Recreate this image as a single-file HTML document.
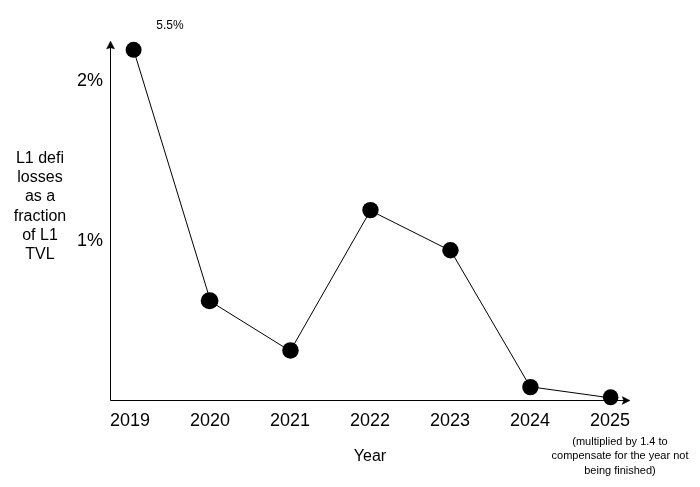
<!DOCTYPE html>
<html><head><meta charset="utf-8"><style>
html,body{margin:0;padding:0;background:#fff;width:700px;height:487px;overflow:hidden}
svg{display:block;will-change:transform}
text{font-family:"Liberation Sans",Arial,sans-serif;fill:#000}
</style></head><body>
<svg width="700" height="487" viewBox="0 0 700 487">
<g stroke="#000" fill="none" stroke-width="1">
<path d="M110.5 400.5 V47.5"/>
<path d="M110.5 400.5 H624"/>
<path d="M133.6 49.8 L210.4 300.7"/>
<path d="M210.4 301.4 L290.45 351.15"/>
<path d="M290.6 350.45 L370.7 210.1"/>
<path d="M370.45 210.6 L450.45 250.7"/>
<path d="M450.45 250.2 L530.4 387.1"/>
<path d="M530.4 386.8 L610.65 397.9"/>
</g>
<path d="M110.5 41 L114.6 48.9 L110.5 47.7 L106.5 48.9 Z" fill="#000" stroke="#000" stroke-width="0.4" stroke-linejoin="round"/>
<path d="M630 400.5 L622.2 404.4 L623.6 400.5 L622.2 396.6 Z" fill="#000" stroke="#000" stroke-width="0.4" stroke-linejoin="round"/>
<g fill="#000">
<circle cx="133.6" cy="49.8" r="8"/>
<ellipse cx="209.6" cy="300.75" rx="8.9" ry="8.5"/>
<circle cx="290.45" cy="350.45" r="8.25"/>
<circle cx="370.45" cy="210.1" r="8.2"/>
<circle cx="450.45" cy="250.2" r="8.2"/>
<circle cx="530.4" cy="387.1" r="8.2"/>
<ellipse cx="610.65" cy="397.25" rx="7.8" ry="8"/>
</g>
<text x="170" y="29" font-size="12" text-anchor="middle">5.5%</text>
<text x="90" y="86" font-size="18" text-anchor="middle">2%</text>
<text x="90" y="246" font-size="18" text-anchor="middle">1%</text>
<g font-size="18" text-anchor="middle">
<text x="130" y="426">2019</text>
<text x="210" y="426">2020</text>
<text x="290" y="426">2021</text>
<text x="370" y="426">2022</text>
<text x="450" y="426">2023</text>
<text x="530" y="426">2024</text>
<text x="610" y="426">2025</text>
</g>
<text x="370" y="461" font-size="16" text-anchor="middle">Year</text>
<g font-size="16" text-anchor="middle">
<text x="40" y="163.4">L1 defi</text>
<text x="40" y="181.6">losses</text>
<text x="40" y="200.7">as a</text>
<text x="40" y="220.7">fraction</text>
<text x="40" y="239.8">of L1</text>
<text x="40" y="258.9">TVL</text>
</g>
<g font-size="11" text-anchor="middle">
<text x="620" y="445">(multiplied by 1.4 to</text>
<text x="620" y="459">compensate for the year not</text>
<text x="620" y="474">being finished)</text>
</g>
</svg>
</body></html>
